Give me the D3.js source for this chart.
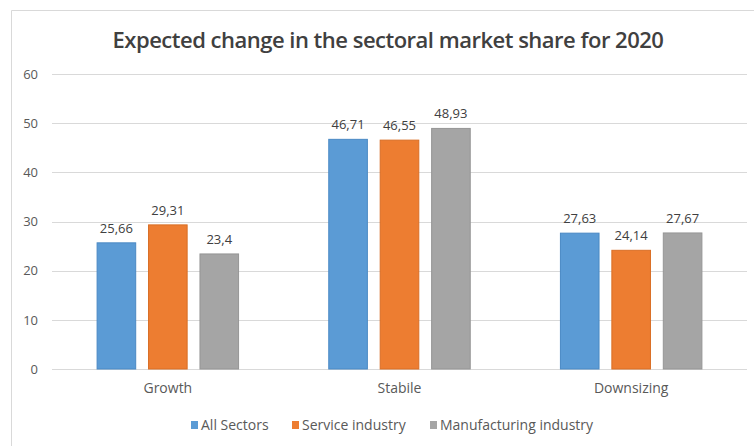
<!DOCTYPE html>
<html>
<head>
<meta charset="utf-8">
<script src="https://cdn.jsdelivr.net/npm/d3@7"></script>
<style>
  html, body { margin: 0; padding: 0; background: #fff; }
  svg { display: block; font-family: "Open Sans", "Noto Sans", sans-serif; }
</style>
</head>
<body>
<svg id="chart" width="754" height="446"></svg>
<script>
// Categories, series and axis ticks
const categories = ["Growth", "Stabile", "Downsizing"];
const seriesNames = ["All Sectors", "Service industry", "Manufacturing industry"];
const allSectors = [25.66, 46.71, 27.63];
const serviceIndustry = [29.31, 46.55, 24.14];
const manufacturingIndustry = [23.4, 48.93, 27.67];
const yTicks = [0, 10, 20, 30, 40, 50, 60];
const colors = ["#5B9BD5", "#ED7D31", "#A5A5A5"];
const strokes = ["#4A89C4", "#D96E25", "#959595"];

const seriesValues = [allSectors, serviceIndustry, manufacturingIndustry];
const rows = categories.map((c, i) => ({
  category: c,
  values: seriesValues.map((vals, s) => ({ series: s, value: vals[i] }))
}));

const svg = d3.select("#chart");
const W = 754, H = 446;
const plot = { left: 52, right: 747, top: 74, bottom: 369 };

// Frame of the chart area
svg.append("path")
  .attr("d", `M11.5,${H} L11.5,10.5 L${W},10.5`)
  .attr("fill", "none")
  .attr("stroke", "#d9d9d9")
  .attr("stroke-width", 1);

// Title
svg.append("text")
  .attr("x", 388)
  .attr("y", 48)
  .attr("text-anchor", "middle")
  .attr("fill", "#404040")
  .attr("font-size", 22)
  .attr("font-weight", 600)
  .attr("letter-spacing", -0.5)
  .text("Expected change in the sectoral market share for 2020");

const x0 = d3.scaleBand()
  .domain(categories)
  .range([plot.left, plot.right])
  .paddingInner(0.385)
  .paddingOuter(0.1925);

const x1 = d3.scaleBand()
  .domain(d3.range(seriesNames.length))
  .range([0, x0.bandwidth()])
  .paddingInner(0.23);

const y = d3.scaleLinear()
  .domain([0, 60])
  .range([plot.bottom, plot.top]);

// Gridlines
svg.append("g")
  .selectAll("line")
  .data(yTicks)
  .join("line")
  .attr("x1", plot.left)
  .attr("x2", plot.right)
  .attr("y1", d => Math.round(y(d)) + 0.5)
  .attr("y2", d => Math.round(y(d)) + 0.5)
  .attr("stroke", "#d9d9d9")
  .attr("stroke-width", 1);

// Y axis labels
const yAxis = svg.append("g")
  .attr("transform", `translate(${plot.left - 14},0)`)
  .call(d3.axisLeft(y).tickValues(yTicks).tickSize(0).tickPadding(0));
yAxis.select(".domain").remove();
yAxis.selectAll("text")
  .attr("fill", "#595959")
  .attr("font-size", 13)
  .attr("font-family", "Open Sans, sans-serif");

// Bars
const groups = svg.append("g")
  .selectAll("g")
  .data(rows)
  .join("g")
  .attr("transform", d => `translate(${x0(d.category)},0)`);

groups.selectAll("rect")
  .data(d => d.values)
  .join("rect")
  .attr("x", d => x1(d.series) + 0.5)
  .attr("y", d => y(d.value))
  .attr("width", x1.bandwidth() - 1)
  .attr("height", d => y(0) - y(d.value))
  .attr("fill", d => colors[d.series])
  .attr("stroke", d => strokes[d.series])
  .attr("stroke-width", 1);

// Data labels
groups.selectAll("text")
  .data(d => d.values)
  .join("text")
  .attr("x", d => x1(d.series) + x1.bandwidth() / 2)
  .attr("y", d => y(d.value) - 10)
  .attr("text-anchor", "middle")
  .attr("fill", "#404040")
  .attr("font-size", 13)
  .text(d => String(d.value).replace(".", ","));

// Category axis labels
const xAxis = svg.append("g")
  .attr("transform", `translate(0,${plot.bottom})`)
  .call(d3.axisBottom(x0).tickSize(0).tickPadding(14));
xAxis.select(".domain").remove();
xAxis.selectAll("text")
  .attr("fill", "#595959")
  .attr("font-size", 14)
  .attr("font-family", "Open Sans, sans-serif");

// Legend
const legendItems = [
  { name: seriesNames[0], x: 191 },
  { name: seriesNames[1], x: 292 },
  { name: seriesNames[2], x: 430 }
];
const legend = svg.append("g")
  .selectAll("g")
  .data(legendItems)
  .join("g")
  .attr("transform", d => `translate(${d.x},425)`);
legend.append("rect")
  .attr("x", 0)
  .attr("y", -4)
  .attr("width", 7)
  .attr("height", 8)
  .attr("fill", (d, i) => colors[i]);
legend.append("text")
  .attr("x", 10)
  .attr("y", 5)
  .attr("fill", "#595959")
  .attr("font-size", 14)
  .text(d => d.name);
</script>
</body>
</html>
